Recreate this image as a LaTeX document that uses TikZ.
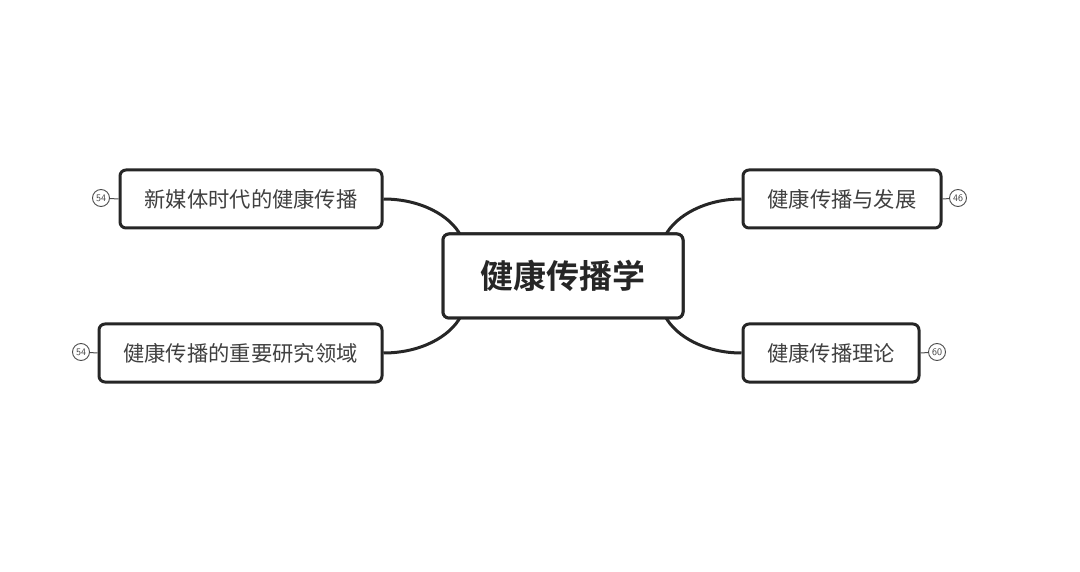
\documentclass[tikz,border=0pt]{standalone}
\usepackage{fontspec}
\newfontfamily\cjk{Noto Sans CJK SC}
\newfontfamily\cjkb{Noto Sans CJK SC Bold}
\begin{document}
\begin{tikzpicture}[x=1pt,y=-1pt,
  topic/.style={draw=black!85,line width=3pt,rounded corners=6pt,fill=white,inner sep=0pt,text=black!75,font=\cjk\fontsize{21.3}{21.3}\selectfont},
  badge/.style={draw=black!70,circle,line width=0.9pt,minimum size=17pt,inner sep=0pt,text=black!75,font=\sffamily\fontsize{10}{10}\selectfont},
  conn/.style={draw=black!85,line width=3pt},
  tick/.style={draw=black!70,line width=1pt}]
\useasboundingbox (0,0) rectangle (1080,572);
\node[topic,minimum width=240pt,minimum height=84pt] (c) at (563,276) {};
\node[topic,minimum width=262pt,minimum height=58pt] (a) at (251,199) {新媒体时代的健康传播};
\node[topic,minimum width=283pt,minimum height=58pt] (b) at (240.5,353) {健康传播的重要研究领域};
\node[topic,minimum width=198pt,minimum height=58pt] (d) at (842,199) {健康传播与发展};
\node[topic,minimum width=176pt,minimum height=58pt] (e) at (831,353) {健康传播理论};
\node[badge] (ba) at (101,198) {54};
\node[badge] (bb) at (81,352) {54};
\node[badge] (bd) at (958,198) {46};
\node[badge] (be) at (937,352) {60};
\draw[tick] (ba) -- (a.west);
\draw[tick] (bb) -- (b.west);
\draw[tick] (bd) -- (d.east);
\draw[tick] (be) -- (e.east);
\coordinate (c1) at (461,236);
\coordinate (c2) at (461,316);
\coordinate (c3) at (665,236);
\coordinate (c4) at (665,316);
\draw[conn] (a.east) .. controls (420,199) and (450,215) .. (c1);
\draw[conn] (b.east) .. controls (420,353) and (450,337) .. (c2);
\draw[conn] (d.west) .. controls (706,199) and (676,215) .. (c3);
\draw[conn] (e.west) .. controls (706,353) and (676,337) .. (c4);
\node[topic,minimum width=240pt,minimum height=84pt,font=\cjkb\fontsize{33}{33}\selectfont,text=black!85] (cc) at (563,276) {健康传播学};
\end{tikzpicture}
\end{document}
